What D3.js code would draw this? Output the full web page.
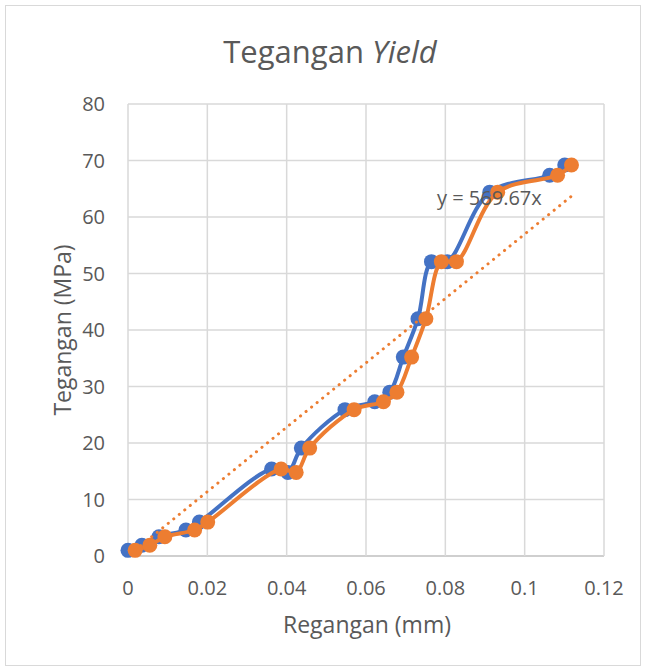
<!DOCTYPE html>
<html>
<head>
<meta charset="utf-8">
<script src="https://cdn.jsdelivr.net/npm/d3@7"></script>
<style>
  body { margin: 0; background: #fff; }
  text { font-family: "Open Sans", sans-serif; fill: #595959; }
</style>
</head>
<body>
<div id="chart"></div>
<script>
// regangan (mm) for both series, tegangan (MPa) shared
var reganganA = [0, 0.0035, 0.0078, 0.0146, 0.018, 0.0362, 0.0403, 0.0437, 0.0547, 0.0622, 0.066, 0.0694, 0.0731, 0.0765, 0.0805, 0.0912, 0.1063, 0.1101];
var reganganB = [0.0018, 0.0055, 0.0093, 0.0168, 0.0201, 0.0386, 0.0424, 0.0458, 0.057, 0.0644, 0.0678, 0.0715, 0.0751, 0.079, 0.0828, 0.0932, 0.1083, 0.1118];
var tegangan = [1.0, 1.9, 3.4, 4.6, 6.0, 15.4, 14.8, 19.1, 25.9, 27.3, 29.0, 35.2, 42.0, 52.1, 52.1, 64.4, 67.4, 69.2];
var slope = 569.67;
var xTicks = [0, 0.02, 0.04, 0.06, 0.08, 0.1, 0.12];
var yTicks = [0, 10, 20, 30, 40, 50, 60, 70, 80];

var width = 647, height = 671;
var margin = {left: 128, right: 43, top: 104, bottom: 115};

var svg = d3.select('#chart').append('svg')
  .attr('width', width)
  .attr('height', height);

svg.append('rect')
  .attr('x', 5.5).attr('y', 5.5)
  .attr('width', 635).attr('height', 660)
  .attr('fill', '#fff')
  .attr('stroke', '#d9d9d9');

var x = d3.scaleLinear().domain([0, 0.12]).range([margin.left, width - margin.right]);
var y = d3.scaleLinear().domain([0, 80]).range([height - margin.bottom, margin.top]);

// grid
svg.append('g').selectAll('line')
  .data(yTicks)
  .enter().append('line')
  .attr('x1', x(0)).attr('x2', x(0.12))
  .attr('y1', function(d) { return y(d); })
  .attr('y2', function(d) { return y(d); })
  .attr('stroke', function(d) { return d === 0 ? '#bfbfbf' : '#d9d9d9'; })
  .attr('stroke-width', 1.5);

svg.append('g').selectAll('line')
  .data(xTicks)
  .enter().append('line')
  .attr('y1', y(0)).attr('y2', y(80))
  .attr('x1', function(d) { return x(d); })
  .attr('x2', function(d) { return x(d); })
  .attr('stroke', '#d9d9d9')
  .attr('stroke-width', 1.5);

// tick labels
svg.append('g').selectAll('text')
  .data(yTicks)
  .enter().append('text')
  .attr('x', x(0) - 23)
  .attr('y', function(d) { return y(d); })
  .attr('dy', '0.35em')
  .attr('text-anchor', 'end')
  .style('font-size', '20px')
  .text(function(d) { return d; });

svg.append('g').selectAll('text')
  .data(xTicks)
  .enter().append('text')
  .attr('x', function(d) { return x(d); })
  .attr('y', y(0) + 39)
  .attr('text-anchor', 'middle')
  .style('font-size', '20px')
  .text(function(d) { return d; });

// titles
var title = svg.append('text')
  .attr('x', 330).attr('y', 63)
  .attr('text-anchor', 'middle')
  .style('font-size', '31px');
title.append('tspan').text('Tegangan ');
title.append('tspan').style('font-style', 'italic').text('Yield');

svg.append('text')
  .attr('x', 367).attr('y', 633)
  .attr('text-anchor', 'middle')
  .style('font-size', '23px')
  .text('Regangan (mm)');

svg.append('text')
  .attr('transform', 'translate(71,330) rotate(-90)')
  .attr('text-anchor', 'middle')
  .style('font-size', '23px')
  .text('Tegangan (MPa)');

// series
var series = [
  {xs: reganganA, color: '#4472C4'},
  {xs: reganganB, color: '#ED7D31'}
];

var line = d3.line()
  .x(function(d) { return x(d[0]); })
  .y(function(d) { return y(d[1]); })
  .curve(d3.curveCatmullRom.alpha(0.5));

series.forEach(function(s) {
  var pts = s.xs.map(function(v, i) { return [v, tegangan[i]]; });
  var g = svg.append('g');
  g.append('path')
    .attr('d', line(pts))
    .attr('fill', 'none')
    .attr('stroke', s.color)
    .attr('stroke-width', 4)
    .attr('stroke-linejoin', 'round');
  g.selectAll('circle')
    .data(pts)
    .enter().append('circle')
    .attr('cx', function(d) { return x(d[0]); })
    .attr('cy', function(d) { return y(d[1]); })
    .attr('r', 7.5)
    .attr('fill', s.color);
});

// linear trendline (through origin) of the orange series
var tx0 = d3.min(reganganB), tx1 = d3.max(reganganB);
svg.append('line')
  .attr('x1', x(tx0)).attr('y1', y(slope * tx0))
  .attr('x2', x(tx1)).attr('y2', y(slope * tx1))
  .attr('stroke', '#ED7D31')
  .attr('stroke-width', 3)
  .attr('stroke-linecap', 'round')
  .attr('stroke-dasharray', '0.1 7');

svg.append('text')
  .attr('x', 437).attr('y', 198)
  .attr('dy', '0.35em')
  .style('font-size', '20px')
  .text('y = ' + slope + 'x');
</script>
</body>
</html>
